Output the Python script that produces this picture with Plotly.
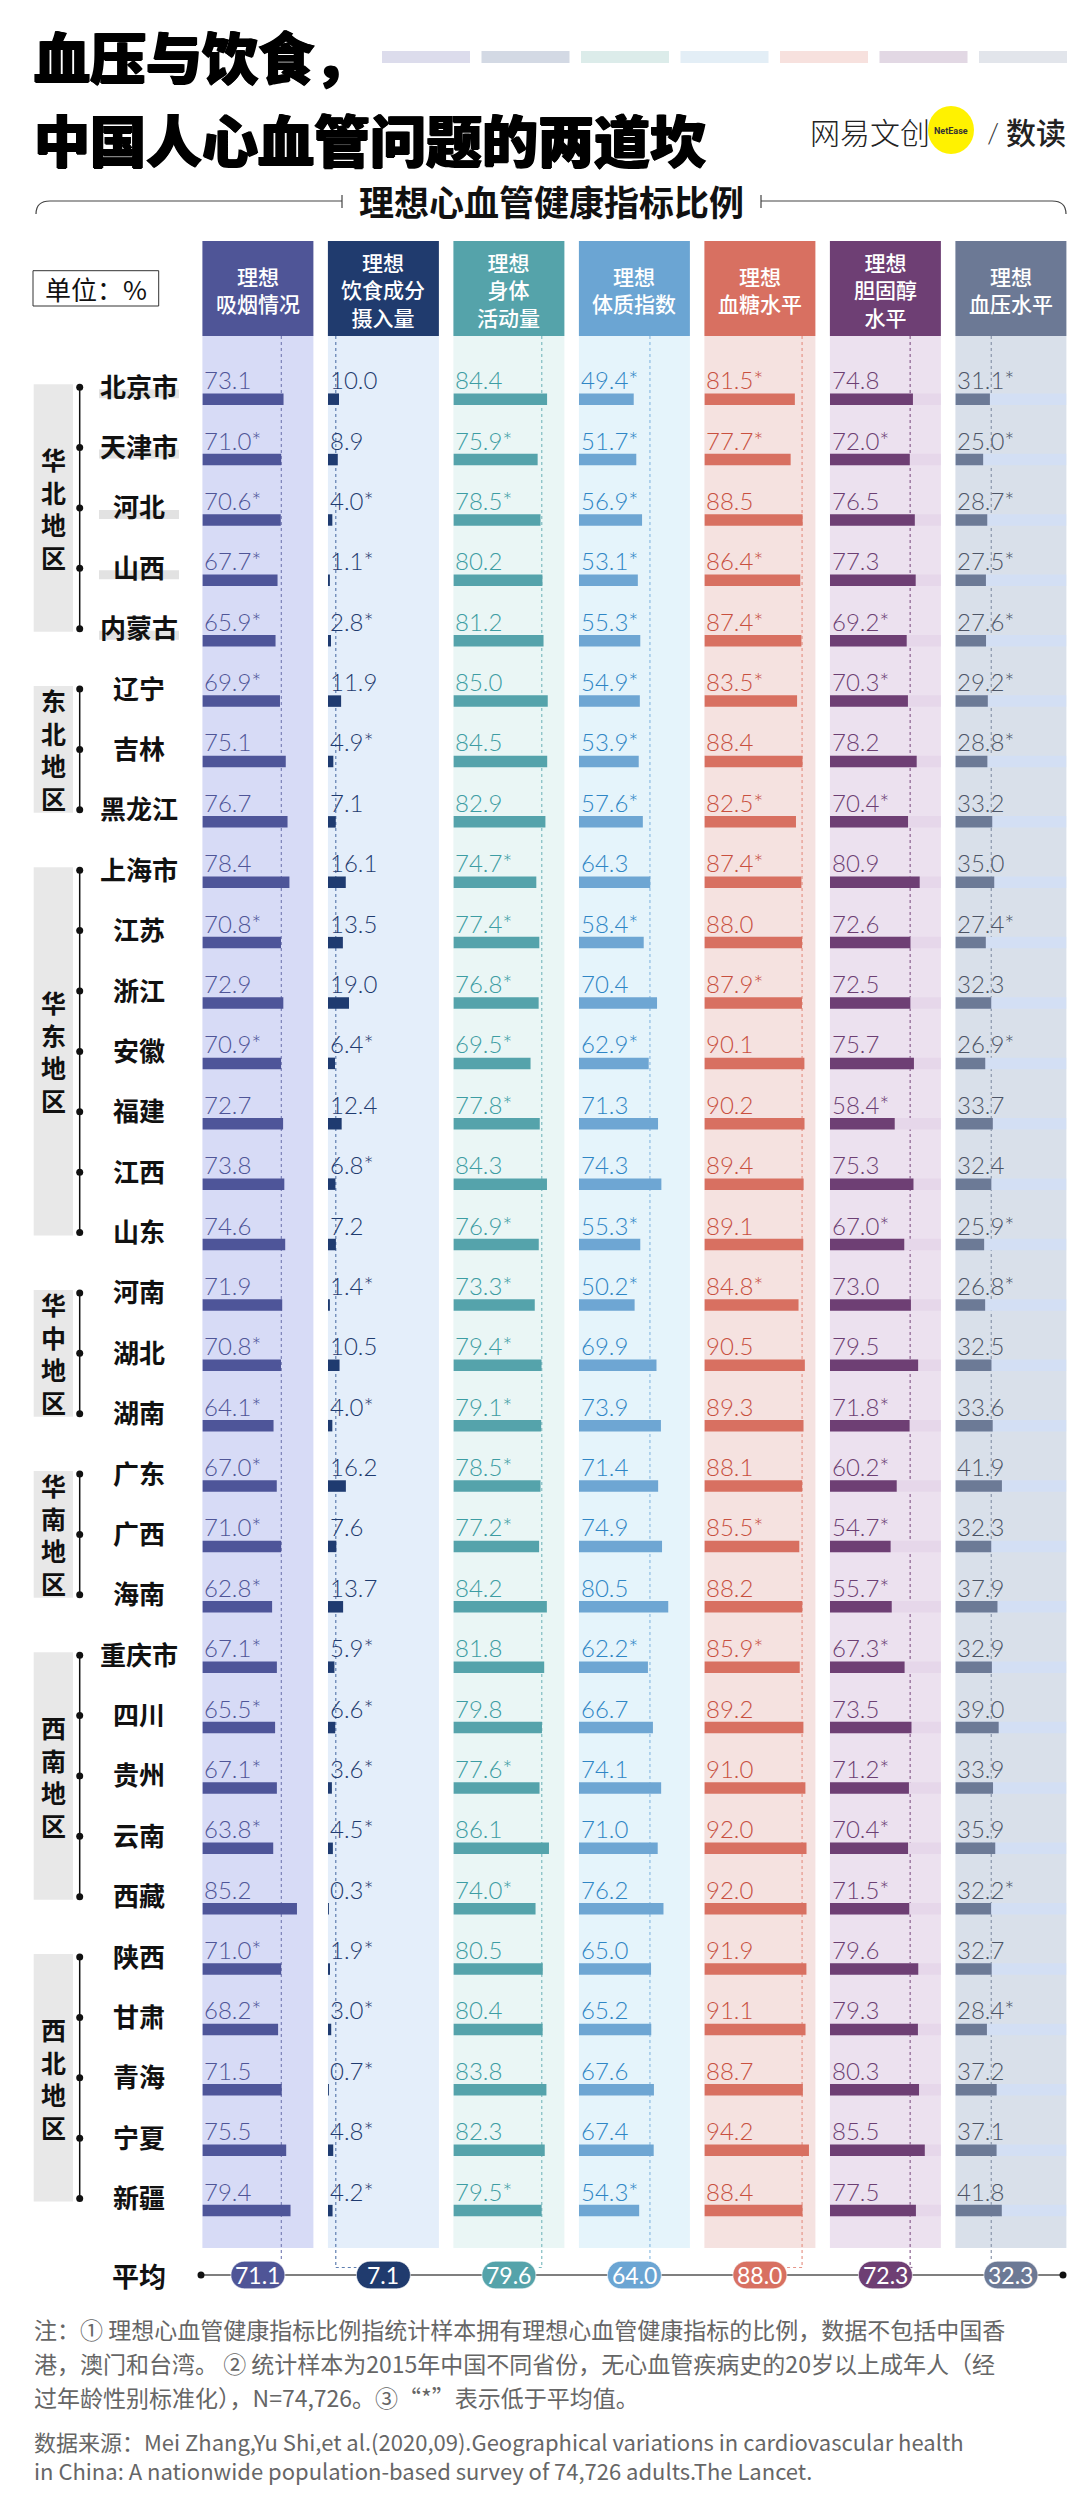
import plotly.graph_objects as go

W, H = 1080, 2501

# ---------------- data ----------------
provinces = ["北京市", "天津市", "河北", "山西", "内蒙古", "辽宁", "吉林", "黑龙江",
             "上海市", "江苏", "浙江", "安徽", "福建", "江西", "山东", "河南", "湖北",
             "湖南", "广东", "广西", "海南", "重庆市", "四川", "贵州", "云南", "西藏",
             "陕西", "甘肃", "青海", "宁夏", "新疆"]
regions = ["华北地区", "东北地区", "华东地区", "华中地区", "华南地区", "西南地区", "西北地区"]
region_sizes = [5, 3, 7, 3, 3, 5, 5]
highlight_region = "华北地区"

headers = ["理想<br>吸烟情况", "理想<br>饮食成分<br>摄入量", "理想<br>身体<br>活动量",
           "理想<br>体质指数", "理想<br>血糖水平", "理想<br>胆固醇<br>水平", "理想<br>血压水平"]

smoking = [73.1, 71.0, 70.6, 67.7, 65.9, 69.9, 75.1, 76.7, 78.4, 70.8, 72.9, 70.9, 72.7, 73.8, 74.6,
           71.9, 70.8, 64.1, 67.0, 71.0, 62.8, 67.1, 65.5, 67.1, 63.8, 85.2, 71.0, 68.2, 71.5, 75.5, 79.4]
diet = [10.0, 8.9, 4.0, 1.1, 2.8, 11.9, 4.9, 7.1, 16.1, 13.5, 19.0, 6.4, 12.4, 6.8, 7.2,
        1.4, 10.5, 4.0, 16.2, 7.6, 13.7, 5.9, 6.6, 3.6, 4.5, 0.3, 1.9, 3.0, 0.7, 4.8, 4.2]
activity = [84.4, 75.9, 78.5, 80.2, 81.2, 85.0, 84.5, 82.9, 74.7, 77.4, 76.8, 69.5, 77.8, 84.3, 76.9,
            73.3, 79.4, 79.1, 78.5, 77.2, 84.2, 81.8, 79.8, 77.6, 86.1, 74.0, 80.5, 80.4, 83.8, 82.3, 79.5]
bmi = [49.4, 51.7, 56.9, 53.1, 55.3, 54.9, 53.9, 57.6, 64.3, 58.4, 70.4, 62.9, 71.3, 74.3, 55.3,
       50.2, 69.9, 73.9, 71.4, 74.9, 80.5, 62.2, 66.7, 74.1, 71.0, 76.2, 65.0, 65.2, 67.6, 67.4, 54.3]
glucose = [81.5, 77.7, 88.5, 86.4, 87.4, 83.5, 88.4, 82.5, 87.4, 88.0, 87.9, 90.1, 90.2, 89.4, 89.1,
           84.8, 90.5, 89.3, 88.1, 85.5, 88.2, 85.9, 89.2, 91.0, 92.0, 92.0, 91.9, 91.1, 88.7, 94.2, 88.4]
cholesterol = [74.8, 72.0, 76.5, 77.3, 69.2, 70.3, 78.2, 70.4, 80.9, 72.6, 72.5, 75.7, 58.4, 75.3, 67.0,
               73.0, 79.5, 71.8, 60.2, 54.7, 55.7, 67.3, 73.5, 71.2, 70.4, 71.5, 79.6, 79.3, 80.3, 85.5, 77.5]
blood_pressure = [31.1, 25.0, 28.7, 27.5, 27.6, 29.2, 28.8, 33.2, 35.0, 27.4, 32.3, 26.9, 33.7, 32.4, 25.9,
                  26.8, 32.5, 33.6, 41.9, 32.3, 37.9, 32.9, 39.0, 33.9, 35.9, 32.2, 32.7, 28.4, 37.2, 37.1, 41.8]
averages = [71.1, 7.1, 79.6, 64.0, 88.0, 72.3, 32.3]

series = [smoking, diet, activity, bmi, glucose, cholesterol, blood_pressure]

# ---------------- styles ----------------
head_colors = ["#4f5597", "#203b6e", "#55a3aa", "#6ba5d3", "#d87061", "#6e3f74", "#6c7995"]
bar_colors = ["#4e5599", "#1f3b70", "#55a3ab", "#6ea6d3", "#d87061", "#6e3f74", "#6c7a96"]
text_colors = ["#4f5597", "#1f3b6f", "#3d9da3", "#2f86c5", "#c8503f", "#6c3f73", "#4d5566"]
bg_colors = ["#d7dbf6", "#e4eefa", "#eaf6f5", "#e5f4fb", "#f5e2e0", "#ece1ef", "#d9e0ea"]
dash_colors = ["#7b80b6", "#5f7fb0", "#7fbcc0", "#8fbde3", "#e69588", "#8a6090", "#8a94aa"]
track_colors = {5: "#e6d7ea", 6: "#d3dff4"}
swatch_colors = ["#dcdcec", "#d3d9e4", "#dcecea", "#e3eef6", "#f7e1de", "#e2d8e4", "#e2e5eb"]

CJK = "Noto Sans CJK SC"
NUM = "Lato"

ROW0, ROWH = 391.2, 60.38
COL0, COLSTEP, COLW = 194.4, 125.5, 111.0
col_left = [COL0 + COLSTEP * k for k in range(7)]
n = len(provinces)
rows = list(range(n))


def ydat(py):
    return (py - ROW0) / ROWH


def xp(px):
    return px / W


def yp(py):
    return 1 - py / H


def xd(k, px):
    return (px - col_left[k]) / COLW * 100


fig = go.Figure()
shapes = []
ann = []

# column backgrounds and headers
for k in range(7):
    shapes.append(dict(type="rect", xref="paper", yref="paper", layer="below",
                       x0=xp(col_left[k]), x1=xp(col_left[k] + COLW), y0=yp(2240), y1=yp(328),
                       fillcolor=bg_colors[k], line=dict(width=0)))
    shapes.append(dict(type="rect", xref="paper", yref="paper",
                       x0=xp(col_left[k]), x1=xp(col_left[k] + COLW), y0=yp(328), y1=yp(233),
                       fillcolor=head_colors[k], line=dict(width=0)))
    ann.append(dict(xref="paper", yref="paper", x=xp(col_left[k] + COLW / 2), y=yp(281),
                    text=headers[k], showarrow=False, xanchor="center", yanchor="middle",
                    font=dict(family=CJK, size=21, color="white", weight=500)))

# bars
BW = 11.5 / ROWH
for k in range(7):
    ax = "x" if k == 0 else f"x{k + 1}"
    if k in track_colors:
        fig.add_trace(go.Bar(x=[100] * n, y=rows, orientation="h", xaxis=ax, yaxis="y",
                             width=BW, marker=dict(color=track_colors[k], line=dict(width=0)),
                             hoverinfo="skip", showlegend=False))
    fig.add_trace(go.Bar(x=series[k], y=rows, orientation="h", xaxis=ax, yaxis="y",
                         width=BW, marker=dict(color=bar_colors[k], line=dict(width=0)),
                         hoverinfo="skip", showlegend=False))
    for i, v in enumerate(series[k]):
        label = f"{v:.1f}" + ("*" if v < averages[k] else "")
        ann.append(dict(xref=ax, yref="y", x=0, y=i, text=label, showarrow=False,
                        xanchor="left", yanchor="bottom", xshift=0, yshift=3,
                        font=dict(family=NUM, size=24, color=text_colors[k], weight=300)))

# average dashed lines, pills
AVG_PY = 2267
PH, PW = 13.8, 27


def pill_path(k, cx, cy, hw, hh):
    r = hh
    c = 0.5523 * r
    X = lambda v: f"{xd(k, v):.3f}"
    Y = lambda v: f"{ydat(v):.4f}"
    return (f"M {X(cx - hw + r)},{Y(cy - hh)} L {X(cx + hw - r)},{Y(cy - hh)} "
            f"C {X(cx + hw - r + c)},{Y(cy - hh)} {X(cx + hw)},{Y(cy - c)} {X(cx + hw)},{Y(cy)} "
            f"C {X(cx + hw)},{Y(cy + c)} {X(cx + hw - r + c)},{Y(cy + hh)} {X(cx + hw - r)},{Y(cy + hh)} "
            f"L {X(cx - hw + r)},{Y(cy + hh)} "
            f"C {X(cx - hw + r - c)},{Y(cy + hh)} {X(cx - hw)},{Y(cy + c)} {X(cx - hw)},{Y(cy)} "
            f"C {X(cx - hw)},{Y(cy - c)} {X(cx - hw + r - c)},{Y(cy - hh)} {X(cx - hw + r)},{Y(cy - hh)} Z")


for k in range(7):
    ax = "x" if k == 0 else f"x{k + 1}"
    a = averages[k]
    apx = col_left[k] + a / 100 * COLW
    cx = col_left[k] + COLW / 2
    inside = (cx - PW + 3) <= apx <= (cx + PW - 3)
    dline = dict(color=dash_colors[k], width=1.2, dash="3px,3px")
    if inside:
        shapes.append(dict(type="line", xref=ax, yref="y", layer="below", x0=a, x1=a,
                           y0=ydat(328), y1=ydat(AVG_PY - PH), line=dline))
    else:
        shapes.append(dict(type="line", xref=ax, yref="y", layer="below", x0=a, x1=a,
                           y0=ydat(328), y1=ydat(2259.5), line=dline))
        edge = cx + PW if apx > cx else cx - PW
        shapes.append(dict(type="line", xref=ax, yref="y", x0=a, x1=xd(k, edge),
                           y0=ydat(2259.5), y1=ydat(2259.5), line=dline))

# average row line
shapes.append(dict(type="line", xref="paper", yref="paper", x0=xp(193), x1=xp(1055),
                   y0=yp(AVG_PY), y1=yp(AVG_PY), line=dict(color="#555555", width=1.5)))
for ex in (193, 1055):
    shapes.append(dict(type="circle", xref="paper", yref="paper", x0=xp(ex - 3.5), x1=xp(ex + 3.5),
                       y0=yp(AVG_PY + 3.5), y1=yp(AVG_PY - 3.5), fillcolor="#111", line=dict(width=0)))
for k in range(7):
    ax = "x" if k == 0 else f"x{k + 1}"
    cx = col_left[k] + COLW / 2
    shapes.append(dict(type="path", xref=ax, yref="y", path=pill_path(k, cx, AVG_PY, PW, PH),
                       fillcolor=head_colors[k], line=dict(color="rgba(255,255,255,0.6)", width=1)))
    ann.append(dict(xref=ax, yref="y", x=50, y=ydat(AVG_PY), text=f"{averages[k]:.1f}",
                    showarrow=False, xanchor="center", yanchor="middle",
                    font=dict(family=NUM, size=23, color="white", weight=400)))
ann.append(dict(xref="paper", yref="paper", x=xp(131), y=yp(AVG_PY), text="平均", showarrow=False,
                xanchor="center", yanchor="middle", font=dict(family=CJK, size=27, color="#111", weight=700)))

# left panel: regions, brackets, provinces
dot_x, dot_y = [], []
start = 0
for r, size in zip(regions, region_sizes):
    first, last = start, start + size - 1
    top_py = ROW0 + first * ROWH - 12
    bot_py = ROW0 + last * ROWH - 12
    shapes.append(dict(type="rect", xref="x8", yref="y", layer="below", x0=25.7, x1=65,
                       y0=ydat(top_py - 3), y1=ydat(bot_py + 3), fillcolor="#e8e8e8", line=dict(width=0)))
    shapes.append(dict(type="line", xref="x8", yref="y", x0=71.7, x1=71.7,
                       y0=ydat(top_py), y1=ydat(bot_py), line=dict(color="#111", width=1.5)))
    mid = (top_py + bot_py) / 2
    ann.append(dict(xref="x8", yref="y", x=45.3, y=ydat(mid), text="<br>".join(r),
                    showarrow=False, xanchor="center", yanchor="middle",
                    font=dict(family=CJK, size=25, color="#111", weight=700)))
    for i in range(first, last + 1):
        dot_x.append(71.7)
        dot_y.append(i - 12 / ROWH)
        if r == highlight_region:
            shapes.append(dict(type="rect", xref="x8", yref="y", layer="below", x0=91, x1=171,
                               y0=i - 10 / ROWH, y1=i - 1 / ROWH, fillcolor="#e2e2e2", line=dict(width=0)))
    start += size

fig.add_trace(go.Scatter(x=dot_x, y=dot_y, xaxis="x8", yaxis="y", mode="markers",
                         marker=dict(size=7, color="#111"), hoverinfo="skip", showlegend=False))
for i, p in enumerate(provinces):
    ann.append(dict(xref="x8", yref="y", x=131, y=i, yshift=14, text=p, showarrow=False,
                    xanchor="center", yanchor="middle",
                    font=dict(family=CJK, size=26, color="#111", weight=700)))

# unit box
shapes.append(dict(type="rect", xref="paper", yref="paper", x0=xp(25), x1=xp(150.7),
                   y0=yp(298), y1=yp(262.7), line=dict(color="#333", width=1), fillcolor="white"))
ann.append(dict(xref="paper", yref="paper", x=xp(88), y=yp(280.5), text="单位：%", showarrow=False,
                xanchor="center", yanchor="middle", font=dict(family=CJK, size=26, color="#111")))

# title (two lines)
title_font = dict(family=CJK, size=56, color="#000", weight=900,
                  shadow="1px 0px 0px #000, -1px 0px 0px #000, 0px 1px 0px #000")
ann.append(dict(xref="paper", yref="paper", x=xp(24), y=yp(47), text="血压与饮食，", showarrow=False,
                xanchor="left", yanchor="middle", font=title_font))
ann.append(dict(xref="paper", yref="paper", x=xp(24), y=yp(129), text="中国人心血管问题的两道坎",
                showarrow=False, xanchor="left", yanchor="middle", font=title_font))

# swatches
for k, c in enumerate(swatch_colors):
    x0 = 374 + 99.5 * k
    shapes.append(dict(type="rect", xref="paper", yref="paper", x0=xp(x0), x1=xp(x0 + 88),
                       y0=yp(55), y1=yp(43), fillcolor=c, line=dict(width=0)))

# logo
ann.append(dict(xref="paper", yref="paper", x=xp(862), y=yp(123), text="网易文创", showarrow=False,
                xanchor="center", yanchor="middle", font=dict(family=CJK, size=30, color="#222", weight=300)))
shapes.append(dict(type="circle", xref="paper", yref="paper", x0=xp(920), x1=xp(966),
                   y0=yp(146), y1=yp(98), fillcolor="#fff200", line=dict(width=0)))
ann.append(dict(xref="paper", yref="paper", x=xp(943), y=yp(123), text="NetEase", showarrow=False,
                xanchor="center", yanchor="middle", font=dict(family="Roboto", size=9, color="#333", weight=700)))
ann.append(dict(xref="paper", yref="paper", x=xp(985), y=yp(124), text="/", showarrow=False,
                xanchor="center", yanchor="middle", font=dict(family=NUM, size=28, color="#333", weight=300)))
ann.append(dict(xref="paper", yref="paper", x=xp(1028), y=yp(123), text="数读", showarrow=False,
                xanchor="center", yanchor="middle", font=dict(family=CJK, size=30, color="#222", weight=500)))

# subtitle with bracket
ann.append(dict(xref="paper", yref="paper", x=xp(543), y=yp(193), text="理想心血管健康指标比例",
                showarrow=False, xanchor="center", yanchor="middle",
                font=dict(family=CJK, size=35, color="#111", weight=700)))
lpath = (f"M {xp(28)},{yp(206)} Q {xp(28)},{yp(193)} {xp(42)},{yp(193)} L {xp(334)},{yp(193)} "
         f"M {xp(334)},{yp(187)} L {xp(334)},{yp(200)} "
         f"M {xp(1058)},{yp(206)} Q {xp(1058)},{yp(193)} {xp(1044)},{yp(193)} L {xp(753)},{yp(193)} "
         f"M {xp(753)},{yp(187)} L {xp(753)},{yp(200)}")
shapes.append(dict(type="path", xref="paper", yref="paper", path=lpath, line=dict(color="#444", width=1.2)))

# notes
note_lines = ["注：① 理想心血管健康指标比例指统计样本拥有理想心血管健康指标的比例，数据不包括中国香",
              "港，澳门和台湾。 ② 统计样本为2015年中国不同省份，无心血管疾病史的20岁以上成年人（经",
              "过年龄性别标准化），N=74,726。③“*”表示低于平均值。"]
note_y = [2321, 2355, 2389]
for t, y in zip(note_lines, note_y):
    ann.append(dict(xref="paper", yref="paper", x=xp(24), y=yp(y), text=t, showarrow=False,
                    xanchor="left", yanchor="middle", font=dict(family=CJK, size=23, color="#666")))
src_lines = ["数据来源：Mei Zhang,Yu Shi,et al.(2020,09).Geographical variations in cardiovascular health",
             "in China: A nationwide population-based survey of 74,726 adults.The Lancet."]
ann.append(dict(xref="paper", yref="paper", x=xp(24), y=yp(2447.5), text="<br>".join(src_lines),
                showarrow=False, align="left", xanchor="left", yanchor="middle",
                font=dict(family=CJK, size=22, color="#666")))

# axes
layout_axes = {}
for k in range(7):
    key = "xaxis" if k == 0 else f"xaxis{k + 1}"
    layout_axes[key] = dict(domain=[xp(col_left[k]), xp(col_left[k] + COLW)], range=[0, 100],
                            visible=False, fixedrange=True, anchor="y")
layout_axes["xaxis8"] = dict(domain=[0, xp(190)], range=[0, 190], visible=False, fixedrange=True, anchor="y")
layout_axes["yaxis"] = dict(domain=[0, 1], range=[ydat(H), ydat(0)], visible=False, fixedrange=True)

fig.update_layout(width=W, height=H, autosize=False, margin=dict(l=0, r=0, t=0, b=0),
                  paper_bgcolor="white", plot_bgcolor="rgba(0,0,0,0)", barmode="overlay",
                  showlegend=False, shapes=shapes, annotations=ann, **layout_axes)

fig.write_html("out.html")
